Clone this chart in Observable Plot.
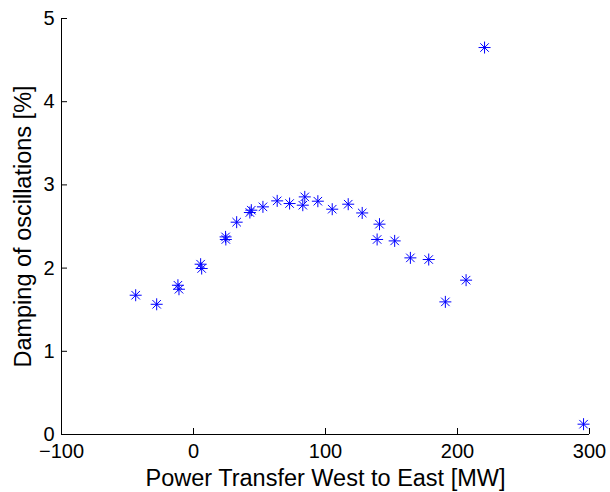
<!DOCTYPE html>
<html>
<head>
<meta charset="utf-8">
<script src="https://cdn.jsdelivr.net/npm/d3@7"></script>
<script src="https://cdn.jsdelivr.net/npm/@observablehq/plot@0.6"></script>
<style>
  html, body { margin: 0; padding: 0; background: #fff; }
</style>
</head>
<body>
<div id="chart"></div>
<script>
// Power transfer (MW) and measured damping (%) for each operating point
const power = [-43.8, -27.9, -11.8, -11.0, 5.4, 6.2, 24.3, 24.5, 32.7, 42.7, 43.8, 52.6, 63.4, 72.8, 82.8, 84.3, 94.2, 105.1, 117.2, 127.8, 139.1, 140.9, 152.4, 164.3, 178.2, 190.8, 206.5, 220.5, 295.5];
const damping = [1.674, 1.565, 1.794, 1.746, 2.047, 1.995, 2.375, 2.344, 2.552, 2.668, 2.696, 2.736, 2.808, 2.776, 2.756, 2.856, 2.804, 2.708, 2.768, 2.663, 2.344, 2.528, 2.327, 2.123, 2.103, 1.594, 1.855, 4.651, 0.124];

const xTicks = [-100, 0, 100, 200, 300];
const yTicks = [0, 1, 2, 3, 4, 5];
const xLabel = "Power Transfer West to East [MW]";
const yLabel = "Damping of oscillations [%]";

const points = power.map((p, i) => ({power: p, damping: damping[i]}));

// Eight-armed asterisk: a plus sign overlaid with a cross
const asterisk = {
  draw(context, size) {
    const r = Math.sqrt(size / Math.PI);
    const d = r * Math.SQRT1_2;
    context.moveTo(-r, 0); context.lineTo(r, 0);
    context.moveTo(0, -r); context.lineTo(0, r);
    context.moveTo(-d, -d); context.lineTo(d, d);
    context.moveTo(-d, d); context.lineTo(d, -d);
  }
};

const fmt = d3.format("");
const blank = () => "";

const chart = Plot.plot({
  width: 610,
  height: 492,
  marginLeft: 61,
  marginRight: 21,
  marginTop: 18,
  marginBottom: 58,
  style: {fontFamily: "'Liberation Sans', Arial, Helvetica, sans-serif", background: "#fff", color: "#000"},
  x: {domain: [-100, 300]},
  y: {domain: [0, 5]},
  marks: [
    // axis lines (left and bottom only)
    Plot.ruleX([-100], {stroke: "#000"}),
    Plot.ruleY([0], {stroke: "#000"}),
    // inward tick marks
    Plot.axisX(xTicks, {tickSize: 6, dy: -6, tickFormat: blank, label: null}),
    Plot.axisY(yTicks, {tickSize: 6, dx: 6, tickFormat: blank, label: null}),
    // tick labels
    Plot.axisX(xTicks, {tickSize: 0, tickPadding: 9, fontSize: 20, label: null, tickFormat: fmt}),
    Plot.axisY(yTicks, {tickSize: 0, tickPadding: 7, fontSize: 20, label: null, tickFormat: fmt}),
    Plot.dot(points, {x: "power", y: "damping", symbol: asterisk, r: 6, stroke: "#0000ff", strokeWidth: 1, fill: "none"}),
    Plot.text([xLabel], {frameAnchor: "bottom", dy: 51, lineAnchor: "bottom", fontSize: 23.5, fill: "#000"}),
    Plot.text([yLabel], {frameAnchor: "left", dx: -31, rotate: -90, textAnchor: "middle", lineAnchor: "bottom", fontSize: 23.5, fill: "#000"})
  ]
});

document.getElementById("chart").append(chart);
</script>
</body>
</html>
